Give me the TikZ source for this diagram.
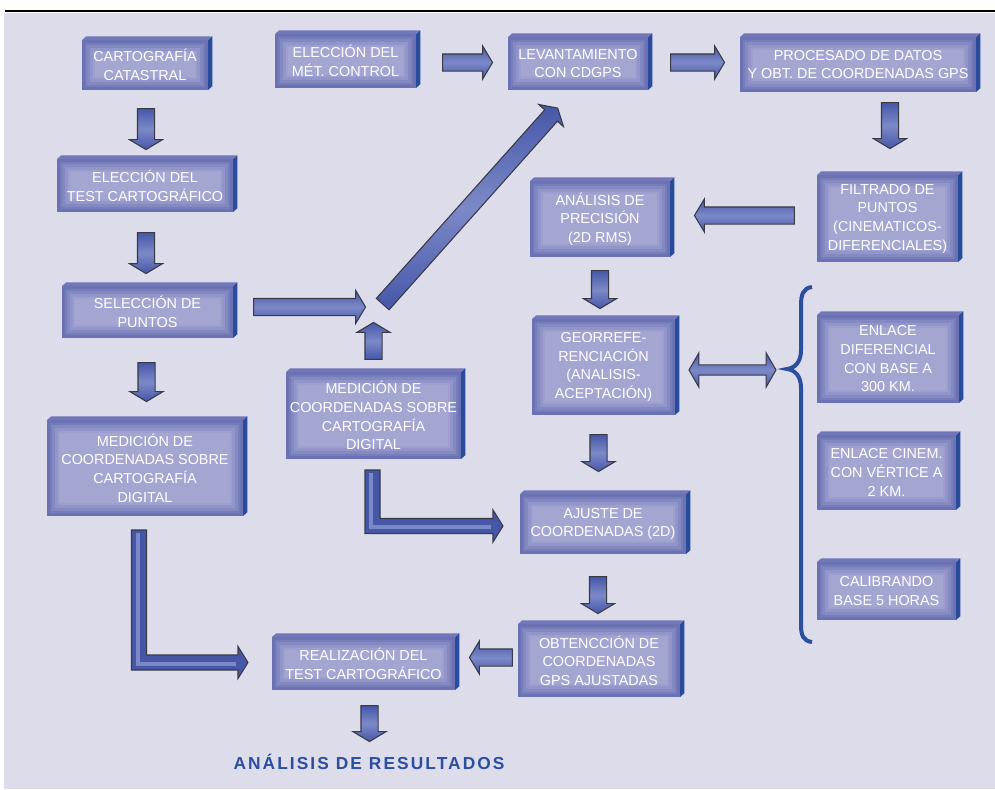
\documentclass[tikz,border=0pt]{standalone}
\usepackage{fontspec}
\setmainfont{Liberation Sans}
\usetikzlibrary{calc,shapes.arrows}

\definecolor{bgcol}{HTML}{DCDCEB}
\definecolor{faceA}{HTML}{6A72B4}
\definecolor{faceB}{HTML}{767DBB}
\definecolor{faceC}{HTML}{8489C2}
\definecolor{faceD}{HTML}{9195C9}
\definecolor{faceE}{HTML}{9DA0CF}
\definecolor{faceF}{HTML}{A4A6D2}
\definecolor{sidecol}{HTML}{294B9C}
\definecolor{topcol}{HTML}{7177B8}
\definecolor{arrowA}{HTML}{4657A8}
\definecolor{arrowB}{HTML}{7C89C8}
\definecolor{arrowline}{HTML}{3A3A44}
\definecolor{bracecol}{HTML}{2B4E9E}

\tikzset{
  box/.style 2 args={fill=faceA, text=white, align=center, inner sep=0pt, outer sep=0pt,
    minimum width=#1*0.75pt, minimum height=#2*0.75pt,
    font=\fontsize{10.8}{14}\selectfont,
    path picture={\foreach \i/\c in {2pt/faceB,4pt/faceC,6pt/faceD,8pt/faceE,10pt/faceF}
      \fill[\c] ([shift={(\i,\i)}]path picture bounding box.south west) rectangle ([shift={(-\i,-\i)}]path picture bounding box.north east);}},
  blockarrow/.style={single arrow, draw=arrowline, line width=0.8pt, top color=arrowA, bottom color=arrowA, middle color=arrowB,
    inner sep=0pt, inner ysep=6pt, single arrow head extend=6pt, single arrow tip angle=118, minimum width=0pt},
  twoarrow/.style={double arrow, draw=arrowline, line width=0.8pt, top color=arrowA, bottom color=arrowA, middle color=arrowB,
    inner sep=0pt, inner ysep=3.5pt, double arrow head extend=9pt, double arrow tip angle=120, minimum width=0pt},
  larrow/.style={fill=arrowA, draw=arrowline, line width=0.8pt, line join=miter},
  stripe/.style={draw=arrowB, line width=3pt}
}

\newcommand{\blockarrow}[4][blockarrow]{%
  \path let \p1=(#3), \p2=(#4), \n1={veclen(\x2-\x1,\y2-\y1)} in
    (\p1) -- (\p2) node[#1, midway, sloped, allow upside down, minimum height=\n1] (#2) {};}

\newcommand{\elbow}[2]{%
  \draw[larrow] ($(#1)+(-7.5,0)$) -- ($(#1 |- #2)+(-7.5,7.5)$) -- ($(#2)+(-10,7.5)$) -- ($(#2)+(-10,16)$) -- (#2)
    -- ($(#2)+(-10,-16)$) -- ($(#2)+(-10,-7.5)$) -- ($(#1 |- #2)+(7.5,-7.5)$) -- ($(#1)+(7.5,0)$) -- cycle;
  \draw[stripe] ($(#1)+(-1.5,3)$) -- ($(#1 |- #2)+(-1.5,1)$) -- ($(#2)+(-12,1)$);}

\begin{document}
\begin{tikzpicture}[x=0.75pt, y=-0.75pt]
  \useasboundingbox (0,0) rectangle (995,789);
  \fill[bgcol] (4,12.5) rectangle (995,789);
  \draw[line width=2.2pt] (5,11) -- (995,11);

  \node[box={126}{50}] (cart) at (145,65) {CARTOGRAFÍA\\CATASTRAL};
  \node[box={141}{54}] (metodo) at (345.5,61) {ELECCIÓN DEL\\MÉT. CONTROL};
  \node[box={140}{53}] (levant) at (578,63.5) {LEVANTAMIENTO\\CON CDGPS};
  \node[box={236}{55}] (proc) at (858,64.5) {PROCESADO DE DATOS\\Y OBT. DE COORDENADAS GPS};
  \node[box={176}{53}] (elec) at (145,185.5) {ELECCIÓN DEL\\TEST CARTOGRÁFICO};
  \node[box={140}{76}] (prec) at (600,219) {ANÁLISIS DE\\PRECISIÓN\\(2D RMS)};
  \node[box={141}{87}] (filt) at (887.5,218.5) {FILTRADO DE\\PUNTOS\\(CINEMATICOS-\\DIFERENCIALES)};
  \node[box={171}{52}] (sel) at (147.5,312) {SELECCIÓN DE\\PUNTOS};
  \node[box={143}{96}] (geo) at (603.5,367) {GEORREFE-\\RENCIACIÓN\\(ANALISIS-\\ACEPTACIÓN)};
  \node[box={142}{88}] (enlD) at (888,359) {ENLACE\\DIFERENCIAL\\CON BASE A\\300 KM.};
  \node[box={175}{87}] (medM) at (373.5,415.5) {MEDICIÓN DE\\COORDENADAS SOBRE\\CARTOGRAFÍA\\DIGITAL};
  \node[box={196}{96}] (medL) at (145,468) {MEDICIÓN DE\\COORDENADAS SOBRE\\CARTOGRAFÍA\\DIGITAL};
  \node[box={139}{75}] (enlC) at (886.5,472.5) {ENLACE CINEM.\\CON VÉRTICE A\\2 KM.};
  \node[box={166}{60}] (ajuste) at (603,524) {AJUSTE DE\\COORDENADAS (2D)};
  \node[box={139}{58}] (calib) at (886.5,591) {CALIBRANDO\\BASE 5 HORAS};
  \node[box={183}{53}] (real) at (363.5,663.5) {REALIZACIÓN DEL\\TEST CARTOGRÁFICO};
  \node[box={162}{73}] (obt) at (599,660.5) {OBTENCCIÓN DE\\COORDENADAS\\GPS AJUSTADAS};

  \foreach \b in {cart,metodo,levant,proc,elec,prec,filt,sel,geo,enlD,medM,medL,enlC,ajuste,calib,real,obt}{
    \fill[sidecol] (\b.north east) -- ++(3.2pt,2.8pt) -- ($(\b.south east)+(3.2pt,2.8pt)$) -- (\b.south east) -- cycle;
    \fill[topcol] (\b.north west) -- ++(3.2pt,2.8pt) -- ($(\b.north east)+(3.2pt,2.8pt)$) -- (\b.north east) -- cycle;
  }

  \node[text=bracecol, inner sep=0pt, font=\bfseries\fontsize{13}{15}\selectfont\addfontfeature{LetterSpace=12}] (result) at (369,762) {ANÁLISIS DE RESULTADOS};

  \coordinate (hubL) at (363,307);
  \coordinate (hubB) at (373,325);
  \coordinate (hubD) at (381,306);

  \blockarrow{a1}{$(cart.south)+(1,16)$}{$(cart.south |- elec.north)+(1,-12)$}
  \blockarrow{a2}{$(elec.south)+(1,18)$}{$(elec.south |- sel.north)+(1,-15)$}
  \blockarrow{a3}{$(sel.south)+(-1,22)$}{$(sel.south |- medL.north)+(-1,-21)$}
  \blockarrow{a4}{$(prec.south)+(0,11)$}{$(prec.south |- geo.north)+(0,-13)$}
  \blockarrow{a5}{$(geo.south)+(-5,17)$}{$(geo.south |- ajuste.north)+(-5,-25)$}
  \blockarrow{a6}{$(ajuste.south)+(-5,20)$}{$(ajuste.south |- obt.north)+(-5,-13)$}
  \blockarrow{a7}{$(proc.south)+(32,8)$}{$(proc.south |- filt.north)+(32,-29)$}
  \blockarrow{a8}{$(real.south)+(6,13)$}{$(real.south |- result.north)+(6,-15)$}
  \blockarrow{a9}{$(metodo.east |- levant.west)+(24,-1)$}{$(levant.west)+(-18,-1)$}
  \blockarrow{a10}{$(levant.east)+(20,-1)$}{$(levant.east -| proc.west)+(-18,-1)$}
  \blockarrow{a11}{$(sel.east |- hubL)+(18,0)$}{hubL}
  \blockarrow{a12}{$(medM.north)+(0,-10)$}{medM.north |- hubB}
  \blockarrow{a13}{hubD}{$(levant.south west)+(48,20)$}
  \blockarrow{a14}{$(filt.west)+(-20,-3)$}{$(filt.west -| prec.east)+(27,-3)$}
  \blockarrow{a15}{$(obt.west)+(-3,-3)$}{$(obt.west -| real.east)+(17,-3)$}
  \blockarrow[twoarrow]{a16}{$(geo.east)+(14,3)$}{$(geo.east)+(101,3)$}

  \coordinate (l1s) at ($(medM.south)+(-1,11)$);
  \coordinate (l1t) at ($(ajuste.west)+(-17,2)$);
  \elbow{l1s}{l1t}
  \coordinate (l2s) at ($(medL.south)+(-6,14)$);
  \coordinate (l2t) at ($(real.west)+(-24,-1)$);
  \elbow{l2s}{l2t}

  \draw[bracecol, line width=3pt] (812,287) .. controls (803,288) and (801,295) .. (801,305) -- (801,350)
    .. controls (801,362) and (795,368) .. (787,369) .. controls (795,370) and (801,376) .. (801,388)
    -- (801,625) .. controls (801,635) and (803,641) .. (812,642);
\end{tikzpicture}
\end{document}
